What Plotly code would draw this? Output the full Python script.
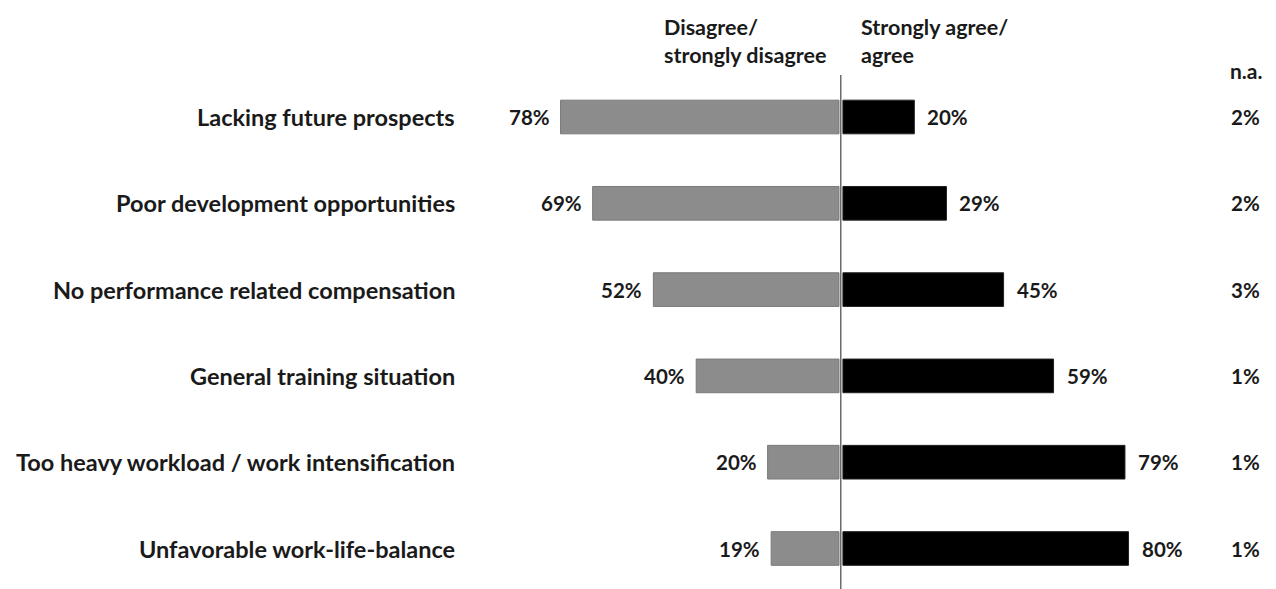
import plotly.graph_objects as go

categories = ["Lacking future prospects", "Poor development opportunities",
              "No performance related compensation", "General training situation",
              "Too heavy workload / work intensification", "Unfavorable work-life-balance"]
disagree = [78, 69, 52, 40, 20, 19]
agree = [20, 29, 45, 59, 79, 80]
na = [2, 2, 3, 1, 1, 1]

W, H = 1276, 589
PX = 3.57          # pixels per percent
X0 = 839           # pixel of zero line
ROW0, ROWH = 117, 86.3

FONT = "Lato"
TXT = "#1a1a1a"

idx = list(range(len(categories)))
fig = go.Figure()
fig.add_trace(go.Bar(y=idx, x=[-v for v in disagree], orientation="h", width=0.39,
                     marker=dict(color="#8c8c8c", line=dict(color="#7a7a7a", width=1)),
                     hoverinfo="skip"))
fig.add_trace(go.Bar(y=idx, x=agree, orientation="h", width=0.39, base=1.1,
                     marker=dict(color="#000000", line=dict(color="#222", width=1)),
                     hoverinfo="skip"))

def f(size):
    return dict(size=size, color=TXT, family=FONT, weight="bold")

ann = []
for i, c in enumerate(categories):
    ann.append(dict(x=-107.0, y=i, xref="x", yref="y", text=c, showarrow=False,
                    xanchor="right", font=f(23.5)))
    ann.append(dict(x=-disagree[i], y=i, xref="x", yref="y", text=f"{disagree[i]}%",
                    showarrow=False, xanchor="right", xshift=-9, font=f(20.5)))
    ann.append(dict(x=agree[i] + 1.1, y=i, xref="x", yref="y", text=f"{agree[i]}%",
                    showarrow=False, xanchor="left", xshift=11, font=f(20.5)))
    ann.append(dict(x=1245 / W, y=i, xref="paper", yref="y", text=f"{na[i]}%",
                    showarrow=False, xanchor="center", font=f(20.5)))

ann.append(dict(x=662 / W, y=1 - 41 / H, xref="paper", yref="paper",
                text="Disagree/<br>strongly disagree", showarrow=False,
                xanchor="left", yanchor="middle", align="left", font=f(21.5)))
ann.append(dict(x=859 / W, y=1 - 41 / H, xref="paper", yref="paper",
                text="Strongly agree/<br>agree", showarrow=False,
                xanchor="left", yanchor="middle", align="left", font=f(21.5)))
ann.append(dict(x=1246 / W, y=1 - 70 / H, xref="paper", yref="paper",
                text="n.a.", showarrow=False, xanchor="center", yanchor="middle",
                font=f(21)))

ytop = -ROW0 / ROWH
ybot = (H - ROW0) / ROWH
fig.add_shape(type="line", xref="x", yref="y", x0=0.5, x1=0.5,
              y0=(75 - ROW0) / ROWH, y1=ybot, line=dict(color="#555", width=1.3))

fig.update_layout(
    width=W, height=H, margin=dict(l=0, r=0, t=0, b=0),
    paper_bgcolor="white", plot_bgcolor="white",
    showlegend=False, barmode="overlay", annotations=ann,
    xaxis=dict(range=[-X0 / PX, (W - X0) / PX], visible=False, fixedrange=True),
    yaxis=dict(range=[ybot, ytop], visible=False, fixedrange=True),
)
fig.write_html("out.html")
